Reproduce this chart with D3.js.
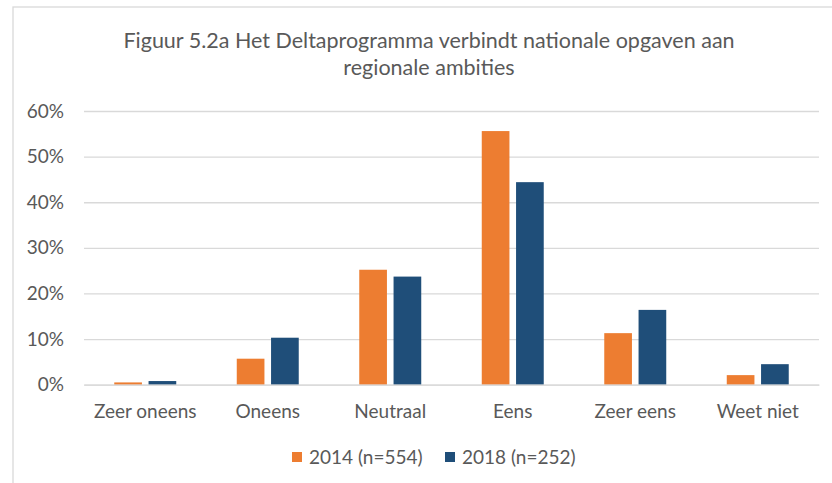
<!DOCTYPE html>
<html>
<head>
<meta charset="utf-8">
<script src="https://cdn.jsdelivr.net/npm/d3@7"></script>
<style>
  body { margin: 0; background: #fff; }
  text { font-family: Lato, "Open Sans", sans-serif; fill: #595959; }
</style>
</head>
<body>
<svg width="832" height="483"></svg>
<script>
// data
const categories = ['Zeer oneens', 'Oneens', 'Neutraal', 'Eens', 'Zeer eens', 'Weet niet'];
const seriesNames = ['2014 (n=554)', '2018 (n=252)'];
const values2014 = [0.005, 0.057, 0.252, 0.556, 0.113, 0.021];
const values2018 = [0.008, 0.103, 0.237, 0.444, 0.164, 0.045];
const yTicks = [0, 0.1, 0.2, 0.3, 0.4, 0.5, 0.6];
const colors = ['#ED7D31', '#1F4E79'];

const titleLines = ['Figuur 5.2a Het Deltaprogramma verbindt nationale opgaven aan', 'regionale ambities'];

const svg = d3.select('svg'),
      margin = {top: 111, right: 13, bottom: 99, left: 84},
      width = +svg.attr('width') - margin.left - margin.right,
      height = +svg.attr('height') - margin.top - margin.bottom;

// chart area border (cut off at right/bottom in the source picture)
svg.append('rect')
    .attr('x', 13).attr('y', 7)
    .attr('width', 840).attr('height', 500)
    .attr('fill', 'none')
    .attr('stroke', '#D9D9D9')
    .attr('stroke-width', 1.3);

svg.append('text')
    .attr('x', 429)
    .attr('y', 48)
    .attr('text-anchor', 'middle')
    .attr('font-size', 21.5)
  .selectAll('tspan')
  .data(titleLines)
  .enter().append('tspan')
    .attr('x', 429)
    .attr('dy', (d, i) => i === 0 ? 0 : 26.5)
    .text(d => d);

const g = svg.append('g').attr('transform', 'translate(' + margin.left + ',' + margin.top + ')');

const x0 = d3.scaleBand()
    .domain(categories)
    .range([0, width])
    .paddingInner(0.494)
    .paddingOuter(0.247);

const x1 = d3.scaleBand()
    .domain(seriesNames)
    .range([0, x0.bandwidth()])
    .paddingInner(0.193);

const y = d3.scaleLinear()
    .domain([0, 0.6])
    .range([height + 0.7, 0]);

// gridlines + y labels
const yAxis = g.append('g')
    .call(d3.axisLeft(y).tickValues(yTicks).tickFormat(d3.format('.0%')).tickSize(-width).tickPadding(20));
yAxis.select('.domain').remove();
yAxis.selectAll('.tick line').attr('stroke', '#D9D9D9').attr('stroke-width', 1.3);
yAxis.selectAll('.tick text').attr('font-size', 19).attr('fill', '#595959').attr('font-family', 'Lato');

const rows = categories.map((c, i) => ({cat: c, vals: [values2014[i], values2018[i]]}));

g.selectAll('.group')
  .data(rows)
  .enter().append('g')
    .attr('class', 'group')
    .attr('transform', d => 'translate(' + x0(d.cat) + ',0)')
  .selectAll('rect')
  .data(d => d.vals.map((v, k) => ({key: seriesNames[k], value: v, k: k})))
  .enter().append('rect')
    .attr('x', d => x1(d.key))
    .attr('width', x1.bandwidth())
    .attr('y', d => y(d.value))
    .attr('height', d => y(0) - y(d.value))
    .attr('fill', d => colors[d.k]);

// category axis
const xAxis = g.append('g')
    .attr('transform', 'translate(0,' + y(0) + ')')
    .call(d3.axisBottom(x0).tickSize(0).tickPadding(20));
xAxis.select('.domain').attr('stroke', '#D9D9D9').attr('stroke-width', 1.3);
xAxis.selectAll('.tick text').attr('font-size', 19).attr('fill', '#595959').attr('font-family', 'Lato');

// legend
const legend = svg.append('g');
const legendX = [292, 445];
seriesNames.forEach((name, k) => {
  legend.append('rect')
      .attr('x', legendX[k]).attr('y', 452)
      .attr('width', 10).attr('height', 10)
      .attr('fill', colors[k]);
  legend.append('text')
      .attr('x', legendX[k] + 17).attr('y', 464)
      .attr('font-size', 19)
      .text(name);
});
</script>
</body>
</html>
